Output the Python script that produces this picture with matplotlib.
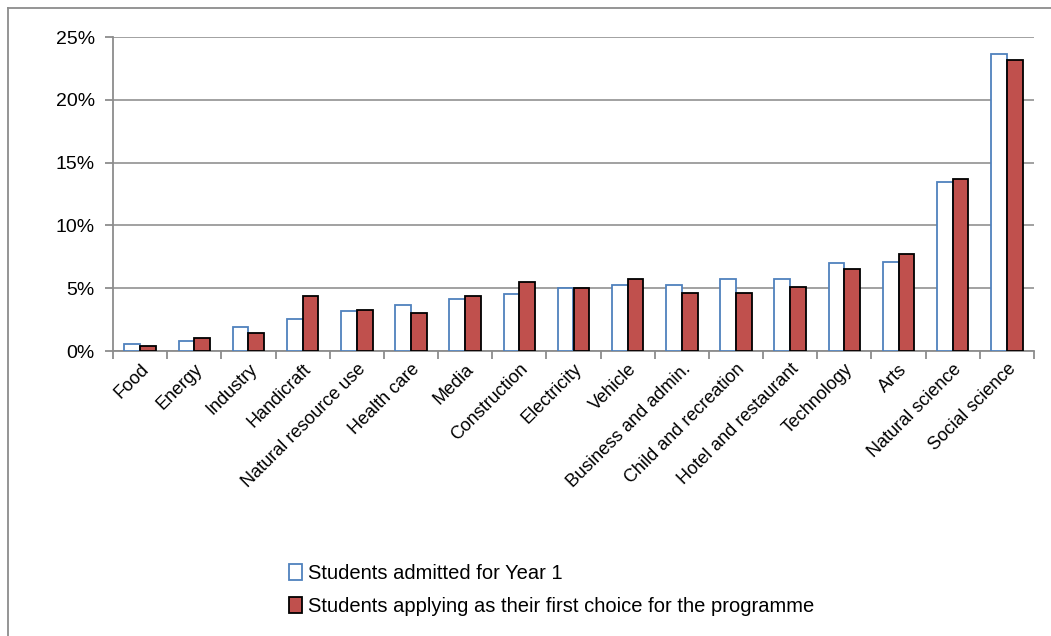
import matplotlib
matplotlib.use("Agg")
import matplotlib.pyplot as plt
import numpy as np
from matplotlib.lines import Line2D
from matplotlib.ticker import FuncFormatter, FixedLocator

categories = ["Food", "Energy", "Industry", "Handicraft", "Natural resource use",
              "Health care", "Media", "Construction", "Electricity", "Vehicle",
              "Business and admin.", "Child and recreation", "Hotel and restaurant",
              "Technology", "Arts", "Natural science", "Social science"]
admitted = [0.59, 0.83, 1.94, 2.54, 3.17, 3.65, 4.13, 4.52, 5.0, 5.24, 5.24,
            5.72, 5.72, 6.98, 7.09, 13.43, 23.65]
applying = [0.43, 1.06, 1.46, 4.37, 3.25, 3.05, 4.37, 5.48, 5.0, 5.72, 4.65,
            4.65, 5.11, 6.5, 7.72, 13.66, 23.15]
series_names = ["Students admitted for Year 1",
                "Students applying as their first choice for the programme"]
yticks = [0, 5, 10, 15, 20, 25]

plt.rcParams['font.family'] = ['Liberation Sans', 'DejaVu Sans']

fig = plt.figure(figsize=(10.51, 6.36), dpi=100)
W, H = 1051, 636
ax = fig.add_axes([113 / W, 1 - 351 / H, (1034 - 113) / W, (351 - 37) / H])

x = np.arange(len(categories))
bw = 0.29
ax.bar(x - bw / 2, admitted, bw, facecolor="white", edgecolor="#4F81BD",
       linewidth=1.3, label=series_names[0], zorder=3)
ax.bar(x + bw / 2, applying, bw, facecolor="#C0504D", edgecolor="black",
       linewidth=1.3, label=series_names[1], zorder=3)

ax.set_xlim(-0.5, len(categories) - 0.5)
ax.set_ylim(0, 25)
ax.set_yticks(yticks)
ax.yaxis.set_major_formatter(FuncFormatter(lambda v, p: f"{int(v)}%"))
ax.grid(axis="y", color="#9a9a9a", linewidth=1.3, zorder=0)
for s in ["top", "right"]:
    ax.spines[s].set_visible(False)
for s in ["left", "bottom"]:
    ax.spines[s].set_color("#8c8c8c")
    ax.spines[s].set_linewidth(1.3)

ax.xaxis.set_major_locator(FixedLocator(x))
ax.set_xticklabels(categories, rotation=45, ha="right", rotation_mode="anchor",
                   fontsize=13)
ax.tick_params(axis="x", which="major", length=0, pad=7)
ax.xaxis.set_minor_locator(FixedLocator(np.arange(-0.5, len(categories), 1.0)))
ax.tick_params(axis="x", which="minor", length=6, color="#8c8c8c", width=1.3)
ax.tick_params(axis="y", length=6, color="#8c8c8c", width=1.3, labelsize=14, pad=7)

leg = fig.legend(loc="upper left", bbox_to_anchor=(281 / W, 1 - 556 / H),
                 frameon=False, fontsize=14.5, handlelength=0.65, handleheight=0.85,
                 handletextpad=0.3, labelspacing=0.7, borderaxespad=0)

# outer chart frame (only top and left edges visible in the image)
fig.add_artist(Line2D([7.5 / W, 7.5 / W], [0, 1 - 8 / H], transform=fig.transFigure,
                      color="#8c8c8c", linewidth=1.3))
fig.add_artist(Line2D([7.5 / W, 1], [1 - 8 / H, 1 - 8 / H], transform=fig.transFigure,
                      color="#8c8c8c", linewidth=1.3))

fig.savefig("out.png", dpi=100)
